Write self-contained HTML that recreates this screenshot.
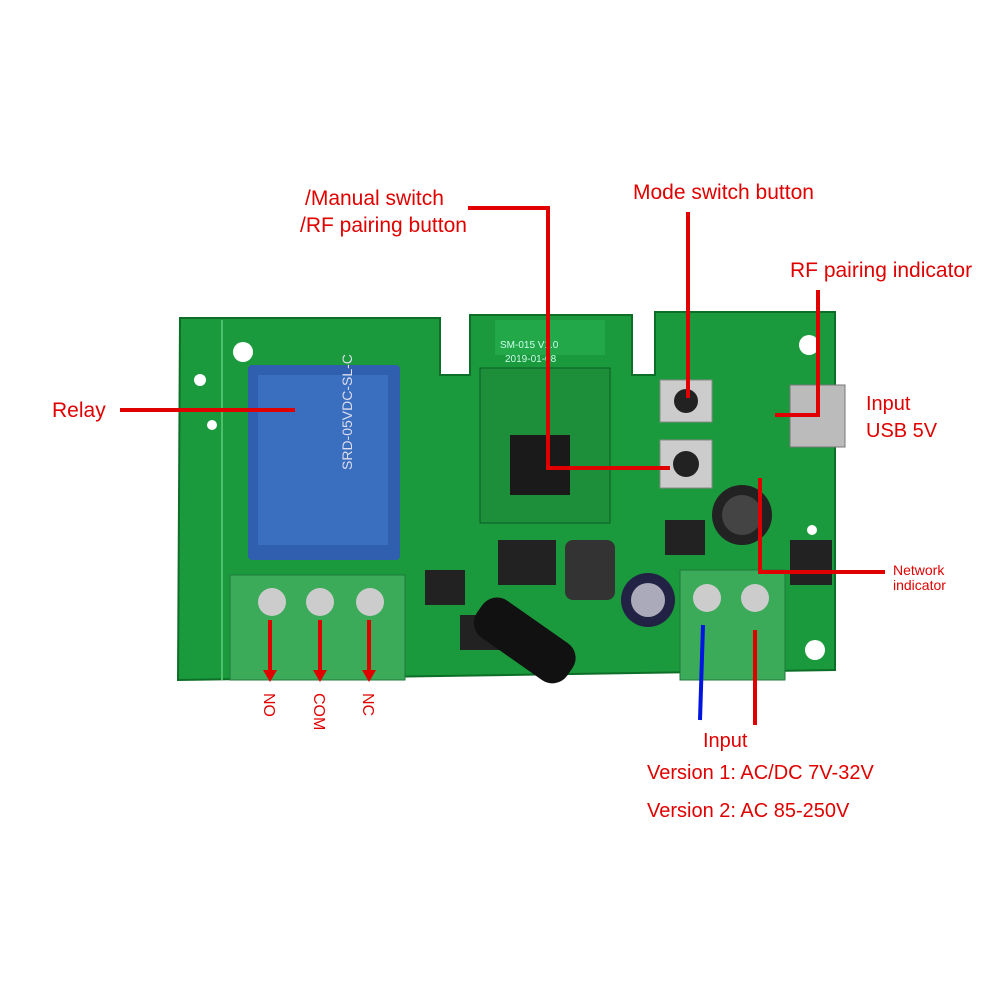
<!DOCTYPE html>
<html><head><meta charset="utf-8"><style>
html,body{margin:0;padding:0;background:#fff;width:1000px;height:1000px;overflow:hidden}
svg{display:block}
text{font-family:"Liberation Sans",sans-serif;fill:#e00000}
</style></head><body>
<svg width="1000" height="1000" viewBox="0 0 1000 1000" xmlns="http://www.w3.org/2000/svg">
<rect width="1000" height="1000" fill="#fff"/>
<!-- PCB -->
<path d="M180 318 L440 318 L440 375 L470 375 L470 315 L632 315 L632 375 L655 375 L655 312 L835 312 L835 670 L178 680 Z" fill="#1a9a3c" stroke="#0d6e28" stroke-width="2"/>
<line x1="222" y1="320" x2="222" y2="680" stroke="#4cc06a" stroke-width="2"/>
<!-- holes -->
<circle cx="243" cy="352" r="10" fill="#fff"/><circle cx="200" cy="380" r="6" fill="#fff"/>
<circle cx="212" cy="425" r="5" fill="#fff"/><circle cx="242" cy="650" r="10" fill="#fff"/>
<circle cx="809" cy="345" r="10" fill="#fff"/><circle cx="815" cy="650" r="10" fill="#fff"/>
<circle cx="812" cy="530" r="5" fill="#fff"/>
<!-- antenna area -->
<rect x="495" y="320" width="110" height="35" fill="#22a848"/>
<text x="500" y="348" font-size="10" style="fill:#cfe">SM-015 V1.0</text>
<text x="505" y="362" font-size="10" style="fill:#cfe">2019-01-08</text>
<!-- module -->
<rect x="480" y="368" width="130" height="155" fill="#1d8f3a" stroke="#0c5c22"/>
<rect x="510" y="435" width="60" height="60" fill="#1a1a1a"/>
<!-- relay -->
<rect x="248" y="365" width="152" height="195" rx="4" fill="#2f5fae"/>
<rect x="258" y="375" width="130" height="170" fill="#3a6fbf"/>
<text x="0" y="0" font-size="14" transform="translate(352,470) rotate(-90)" style="fill:#dde">SRD-05VDC-SL-C</text>
<!-- buttons -->
<rect x="660" y="380" width="52" height="42" fill="#ccc" stroke="#888"/><circle cx="686" cy="401" r="12" fill="#222"/>
<rect x="660" y="440" width="52" height="48" fill="#ccc" stroke="#888"/><circle cx="686" cy="464" r="13" fill="#222"/>
<!-- usb -->
<rect x="790" y="385" width="55" height="62" fill="#bbb" stroke="#777"/>
<!-- caps -->
<circle cx="742" cy="515" r="30" fill="#222"/><circle cx="742" cy="515" r="20" fill="#444"/>
<circle cx="648" cy="600" r="27" fill="#224"/><circle cx="648" cy="600" r="17" fill="#aab"/>
<rect x="565" y="540" width="50" height="60" rx="8" fill="#333"/>
<rect x="498" y="540" width="58" height="45" fill="#222"/>
<rect x="790" y="540" width="42" height="45" fill="#222"/>
<rect x="665" y="520" width="40" height="35" fill="#222"/>
<rect x="425" y="570" width="40" height="35" fill="#222"/>
<rect x="460" y="615" width="40" height="35" fill="#222"/>
<!-- coil -->
<g transform="rotate(35 525 640)"><rect x="470" y="618" width="110" height="45" rx="18" fill="#111"/></g>
<!-- terminals -->
<rect x="230" y="575" width="175" height="105" fill="#3bab5a" stroke="#1f7a3a"/>
<circle cx="272" cy="602" r="14" fill="#ccc"/><circle cx="320" cy="602" r="14" fill="#ccc"/><circle cx="370" cy="602" r="14" fill="#ccc"/>
<rect x="680" y="570" width="105" height="110" fill="#3bab5a" stroke="#1f7a3a"/>
<circle cx="707" cy="598" r="14" fill="#ccc"/><circle cx="755" cy="598" r="14" fill="#ccc"/>
<!-- red lines -->
<g stroke="#e00000" stroke-width="4" fill="none">
<polyline points="468,208 548,208 548,468 670,468"/>
<line x1="688" y1="212" x2="688" y2="398"/>
<polyline points="818,290 818,415 775,415"/>
<line x1="120" y1="410" x2="295" y2="410"/>
<polyline points="760,478 760,572 885,572"/>
<line x1="270" y1="620" x2="270" y2="672"/>
<line x1="320" y1="620" x2="320" y2="672"/>
<line x1="369" y1="620" x2="369" y2="672"/>
<line x1="755" y1="630" x2="755" y2="725"/>
</g>
<line x1="703" y1="625" x2="700" y2="720" stroke="#0015e0" stroke-width="4"/>
<g fill="#e00000">
<polygon points="263,670 277,670 270,682"/><polygon points="313,670 327,670 320,682"/><polygon points="362,670 376,670 369,682"/>
</g>
<!-- labels -->
<text x="305" y="205" font-size="21">/Manual switch</text>
<text x="300" y="232" font-size="21">/RF pairing button</text>
<text x="633" y="199" font-size="21">Mode switch button</text>
<text x="790" y="277" font-size="21">RF  pairing  indicator</text>
<text x="52" y="417" font-size="21">Relay</text>
<text x="866" y="410" font-size="20">Input</text>
<text x="866" y="437" font-size="20">USB 5V</text>
<text x="893" y="575" font-size="14">Network</text>
<text x="893" y="590" font-size="14">indicator</text>
<text x="0" y="0" font-size="16" transform="translate(264,693) rotate(90)">NO</text>
<text x="0" y="0" font-size="16" transform="translate(314,693) rotate(90)">COM</text>
<text x="0" y="0" font-size="16" transform="translate(363,693) rotate(90)">NC</text>
<text x="703" y="747" font-size="20">Input</text>
<text x="647" y="779" font-size="20">Version 1: AC/DC 7V-32V</text>
<text x="647" y="817" font-size="20">Version 2: AC 85-250V</text>
</svg>
</body></html>
